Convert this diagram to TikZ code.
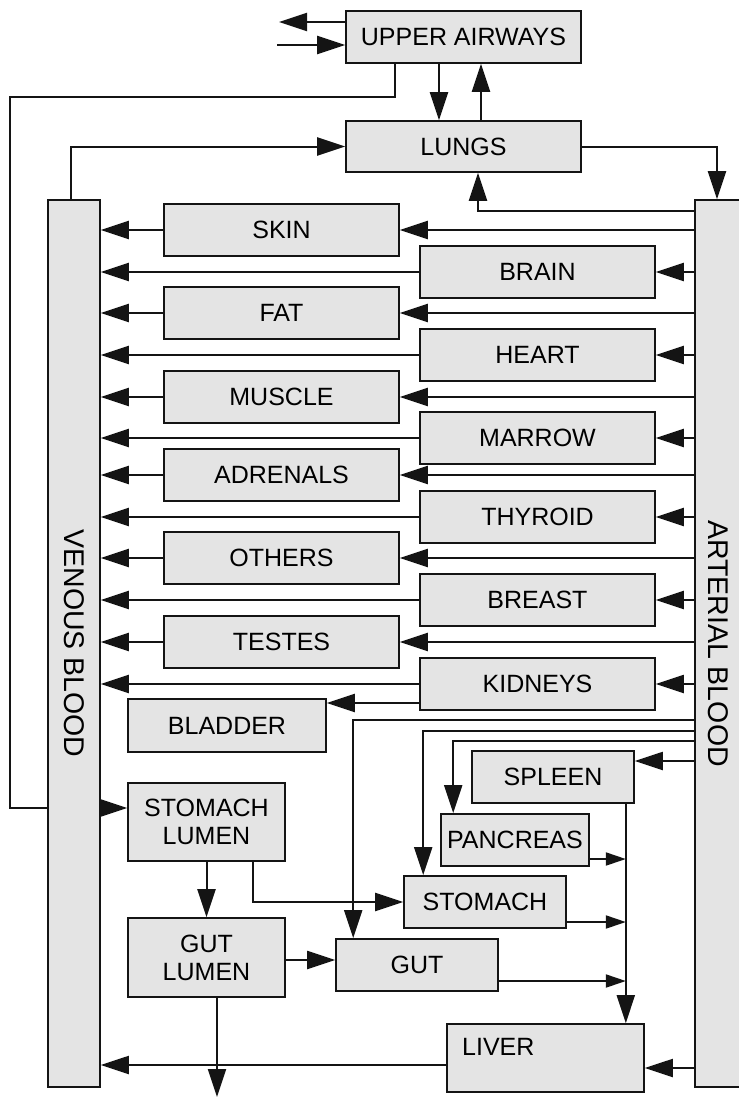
\documentclass[tikz,border=0pt]{standalone}
\usepackage{fontspec}
\setmainfont{Liberation Sans}
\usetikzlibrary{arrows.meta}
\definecolor{boxgray}{HTML}{E4E4E4}
\definecolor{ink}{HTML}{141414}
\pgfdeclarelayer{bg}
\pgfsetlayers{bg,main}
\begin{document}
\begin{tikzpicture}[x=1pt,y=-1pt,
  organ/.style={draw=ink, line width=1.6pt, fill=boxgray, inner sep=0pt, minimum width=235pt, minimum height=52pt, font=\fontsize{25}{28}\selectfont, align=center},
  band/.style={draw=ink, line width=1.6pt, fill=boxgray, inner sep=0pt, minimum height=887pt},
  bandtext/.style={rotate=-90, inner sep=0pt, font=\fontsize{28.5}{30}\selectfont},
  arr/.style={draw=ink, line width=2pt, -{Triangle[length=28pt,width=18pt]}},
  sarr/.style={draw=ink, line width=2pt, -{Triangle[length=20pt,width=13pt]}}]
\useasboundingbox (0,0) rectangle (739,1098);

% top
\node[organ] (ua) at (463.5,37) {UPPER AIRWAYS};
\node[organ, minimum height=51pt] (lungs) at (463.5,146.5) {LUNGS};

% blood bands
\node[band, minimum width=52pt] (ven) at (74,643.5) {};
\node[bandtext] (ventext) at (ven.center) {VENOUS BLOOD};
\begin{scope}
  \clip (0,0) rectangle (739,1098);
  \node[band, minimum width=46pt] (art) at (718,643.5) {};
\end{scope}
\node[bandtext] (arttext) at (art.center) {ARTERIAL BLOOD};

% left column
\node[organ] (skin) at (281.5,230) {SKIN};
\node[organ] (fat) at (281.5,313) {FAT};
\node[organ] (muscle) at (281.5,397) {MUSCLE};
\node[organ] (adrenals) at (281.5,475) {ADRENALS};
\node[organ] (others) at (281.5,558) {OTHERS};
\node[organ] (testes) at (281.5,642) {TESTES};
% right column
\node[organ] (brain) at (537.5,272) {BRAIN};
\node[organ] (heart) at (537.5,355) {HEART};
\node[organ] (marrow) at (537.5,438) {MARROW};
\node[organ] (thyroid) at (537.5,517) {THYROID};
\node[organ] (breast) at (537.5,600) {BREAST};
\node[organ] (kidneys) at (537.5,684) {KIDNEYS};

% lower part
\node[organ, minimum width=198pt, minimum height=53pt] (bladder) at (227,725.5) {BLADDER};
\node[organ, minimum width=157pt, minimum height=78pt] (stlum) at (206.5,822) {STOMACH\\LUMEN};
\node[organ, minimum width=157pt, minimum height=79pt] (gutlum) at (206.5,957.5) {GUT\\LUMEN};
\node[organ, minimum width=162pt] (spleen) at (553,777) {SPLEEN};
\node[organ, minimum width=148pt] (panc) at (515,840) {PANCREAS};
\node[organ, minimum width=162pt] (stom) at (485,902) {STOMACH};
\node[organ, minimum width=162pt] (gut) at (417,965) {GUT};
\node[organ, minimum width=197pt, minimum height=68pt] (liver) at (545.5,1058) {};
\node[anchor=base west, inner sep=0pt, font=\fontsize{25}{28}\selectfont] (livertext) at (462,1055) {LIVER};

\begin{pgfonlayer}{bg}
% organs on both bands
\foreach \n in {skin,brain,fat,heart,muscle,marrow,adrenals,thyroid,others,breast,testes,kidneys} {
  \draw[arr] (art.west |- \n.east) -- (\n.east);
  \draw[arr] (\n.west) -- (ven.east |- \n.west);
}
% airways
\coordinate (exhale) at (279,22);
\coordinate (inhale) at (277,45);
\draw[arr] (ua.west |- exhale) -- (exhale);
\draw[arr] (inhale) -- (ua.west |- inhale);
\draw[arr] ([xshift=-24.5pt]ua.south) -- ([xshift=-24.5pt]lungs.north);
\draw[arr] ([xshift=17.5pt]lungs.north) -- ([xshift=17.5pt]ua.south);
% lungs
\draw[arr] ([xshift=-3pt]ven.north) |- (lungs.west);
\draw[arr] (lungs.east) -| ([xshift=-1pt]art.north);
\coordinate (lungin) at (695,211);
\draw[arr] (art.west |- lungin) -| ([xshift=14.5pt]lungs.south);
% swallowed
\coordinate (uaturn) at (10,97);
\draw[arr] ([xshift=-68.5pt]ua.south) |- (uaturn) |- ([yshift=14pt]stlum.west);
% kidneys to bladder
\coordinate (kb) at ([yshift=-19pt]kidneys.west);
\draw[arr] (kb) -- (bladder.east |- kb);
% arterial branches to the gut organs
\coordinate (a1) at (695,720);
\coordinate (a2) at (695,731);
\coordinate (a3) at (695,741);
\draw[arr] (art.west |- a1) -| ([xshift=18pt]gut.north west);
\draw[arr] (art.west |- a2) -| ([xshift=20pt]stom.north west);
\draw[arr] (art.west |- a3) -| ([xshift=13pt]panc.north west);
\coordinate (sp) at ([yshift=16pt]spleen.east);
\draw[arr] (art.west |- sp) -- (sp);
% portal
\coordinate (portaltop) at ([xshift=-9pt]spleen.south east);
\draw[arr] (portaltop) -- (portaltop |- liver.north);
\coordinate (pc) at ([yshift=-19pt]panc.east);
\draw[sarr] (pc) -- (portaltop |- pc);
\coordinate (sc) at ([yshift=-20pt]stom.east);
\draw[sarr] (sc) -- (portaltop |- sc);
\coordinate (gc) at ([yshift=-16pt]gut.east);
\draw[sarr] (gc) -- (portaltop |- gc);
% liver
\coordinate (la) at ([yshift=-10pt]liver.east);
\draw[arr] (art.west |- la) -- (la);
\coordinate (lv) at ([yshift=-7pt]liver.west);
\draw[arr] (lv) -- (ven.east |- lv);
% lumen
\draw[arr] (stlum.south) -- (gutlum.north);
\draw[arr] ([xshift=46.5pt]stlum.south) |- (stom.west);
\coordinate (gg) at ([yshift=-2.5pt]gutlum.east);
\draw[arr] (gg) -- (gut.west |- gg);
\coordinate (out) at (217,1097);
\draw[arr] (gutlum.south -| out) -- (out);
\end{pgfonlayer}
\end{tikzpicture}
\end{document}
